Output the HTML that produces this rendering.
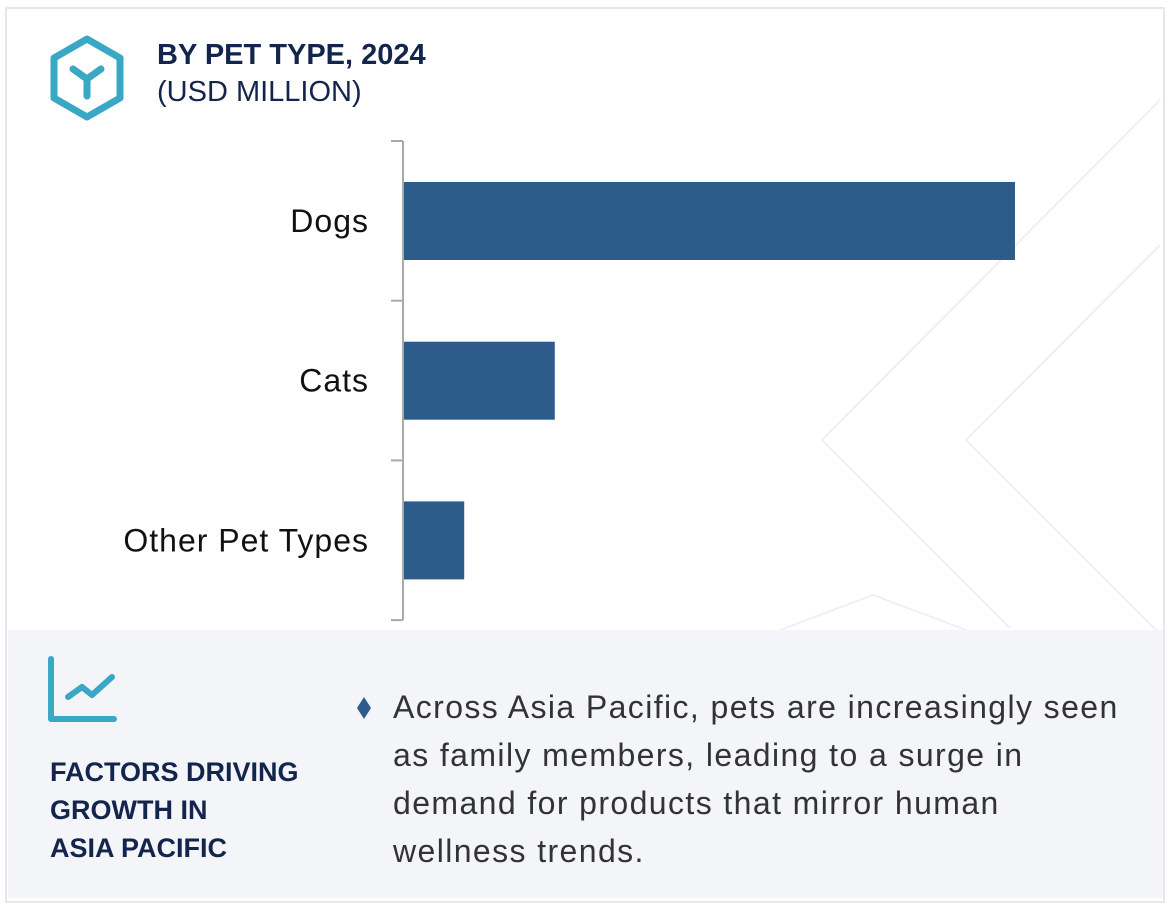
<!DOCTYPE html>
<html><head><meta charset="utf-8"><style>
body{margin:0;width:1170px;height:909px;background:#fff;font-family:"Liberation Sans",sans-serif;position:relative;overflow:hidden}
.frame{position:absolute;left:5px;top:7px;width:1160px;height:896px;border:2px solid #e6e7ec;box-sizing:border-box}
.t1{position:absolute;left:157px;top:39px;font-size:29px;font-weight:bold;color:#13244d}
.t2{position:absolute;left:157px;top:76px;font-size:29px;color:#13244d}
.panel{position:absolute;left:8px;top:630px;width:1155px;height:268px;background:#f3f5f9}
.ft{position:absolute;left:50px;top:753px;font-size:27px;font-weight:bold;color:#13244d;line-height:38px}
.body{position:absolute;left:393px;top:683px;width:780px;font-size:32px;color:#333;line-height:48px;letter-spacing:1.4px;white-space:nowrap}
.dia{position:absolute;left:357px;top:697px;width:14px;height:22px}
</style></head><body>
<div class="frame"></div>
<svg width="1170" height="909" style="position:absolute;left:0;top:0">
<g stroke="#eef0f3" stroke-width="2" fill="none">
<polyline points="822,440 1160,100"/><polyline points="822,440 1010,628"/>
<polyline points="966,440 1160,245"/><polyline points="966,440 1160,634"/>
<polyline points="780,630 873,595 966,630"/>
</g></svg>
<svg width="80" height="90" style="position:absolute;left:48px;top:34px">
<polygon points="39,5 72,24 72,64 39,83 6,64 6,24" fill="none" stroke="#3aa7c4" stroke-width="7" stroke-linejoin="round"/>
<path d="M25,35 L39,45 L53,35 M39,45 L39,62" fill="none" stroke="#3aa7c4" stroke-width="7" stroke-linecap="round"/>
</svg>
<div class="t1">BY PET TYPE, 2024</div>
<div class="t2">(USD MILLION)</div>
<svg id="chart" width="1170" height="640" style="position:absolute;left:0;top:0"></svg>
<div class="panel"></div>
<svg width="80" height="80" style="position:absolute;left:46px;top:653px">
<path d="M5,6 L5,66 L68,66" fill="none" stroke="#3aa7c4" stroke-width="6" stroke-linecap="round" stroke-linejoin="round"/>
<path d="M22,44 L36,34 L46,42 L66,24" fill="none" stroke="#3aa7c4" stroke-width="6" stroke-linecap="round" stroke-linejoin="round"/>
</svg>
<div class="ft">FACTORS DRIVING<br>GROWTH IN<br>ASIA PACIFIC</div>
<svg class="dia"><polygon points="7,0 14,11 7,22 0,11" fill="#2d5c8a"/></svg>
<div class="body">Across Asia Pacific, pets are increasingly seen<br>as family members, leading to a surge in<br>demand for products that mirror human<br>wellness trends.</div>
<script>
const categories=["Dogs","Cats","Other Pet Types"];
const values=[100,24.8,10];
const svg=document.getElementById('chart');
const NS='http://www.w3.org/2000/svg';
const x0=403,xs=612/100,top0=141,band=159.7;
function xPos(v){return x0+v*xs;}
function yBand(i){return top0+i*band;}
function mk(t,a){const e=document.createElementNS(NS,t);for(const k in a)e.setAttribute(k,a[k]);svg.appendChild(e);return e;}
categories.forEach((c,i)=>{
 const r=mk('rect',{x:x0,y:yBand(i)+41,width:xPos(values[i])-x0,height:78,fill:'#2d5c8a'});
 
 
 const t=mk('text',{x:369,y:yBand(i)+91,'text-anchor':'end','font-size':32,'letter-spacing':'1',fill:'#111','font-family':'Liberation Sans, sans-serif'});
 t.textContent=c;
 
 
});
const ax=mk('line',{x1:x0,y1:top0,x2:x0,y2:top0+3*band,stroke:'#aaa','stroke-width':2});


for(let i=0;i<=3;i++){
 const tk=mk('line',{x1:391,y1:yBand(i),x2:x0,y2:yBand(i),stroke:'#aaa','stroke-width':2});
 
 
}
</script>
</body></html>
